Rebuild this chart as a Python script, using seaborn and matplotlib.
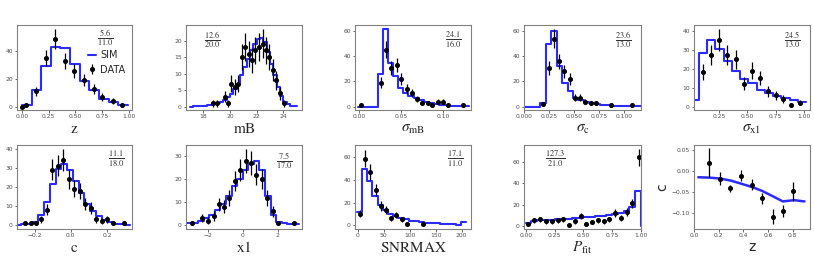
import numpy as np
import pandas as pd
import matplotlib
matplotlib.use("Agg")
from matplotlib import pyplot as plt
from matplotlib.ticker import MultipleLocator
import seaborn as sns

sns.set_style("ticks")
plt.rcParams["font.family"] = ["DejaVu Sans"]
plt.rcParams["mathtext.fontset"] = "stix"
plt.rcParams["axes.edgecolor"] = "0.5"
plt.rcParams["axes.linewidth"] = 0.8
plt.rcParams["xtick.color"] = "0.3"
plt.rcParams["ytick.color"] = "0.3"
plt.rcParams["xtick.labelsize"] = 4.3
plt.rcParams["ytick.labelsize"] = 4.3
plt.rcParams["xtick.major.size"] = 1.8
plt.rcParams["ytick.major.size"] = 1.8
plt.rcParams["xtick.major.pad"] = 1.2
plt.rcParams["ytick.major.pad"] = 1.2
plt.rcParams["xtick.major.width"] = 0.6
plt.rcParams["ytick.major.width"] = 0.6

SIM_COLOR = "#2b2bff"

# data ########################################################################
# z
z_edges = np.linspace(0.0, 0.99, 12)
z_sim = [1.5, 12.4, 29.5, 43.4, 42.2, 30.5, 18.5, 11.7, 5.6, 3.2, 1.2]
z_x = [0.0, 0.04, 0.135, 0.22, 0.31, 0.40, 0.49, 0.58, 0.67, 0.75, 0.85, 0.94]
z_n = [0, 1, 11, 35, 49, 33, 26, 19, 13, 7, 4, 1]

# mB
mb_edges = np.linspace(17.0, 25.0, 33)
mb_sim = [0.05, 0.1, 0.15, 0.2, 0.3, 0.4, 0.5, 0.7, 1.0, 1.4, 2.0, 2.8, 3.8, 5.2,
          7.0, 9.5, 12.0, 14.5, 17.0, 19.0, 20.5, 20.8, 19.5, 16.5, 13.0, 9.5,
          6.0, 3.2, 1.5, 0.7, 0.3, 0.1]
mb_x = [18.75, 19.05, 19.6, 19.85, 20.1, 20.35, 20.6, 20.9, 21.15, 21.4, 21.65,
        21.9, 22.15, 22.45, 22.7, 22.95, 23.2, 23.45, 23.75, 24.05]
mb_n = [1, 1, 3, 1, 7, 6, 7, 15, 18, 16, 14, 17, 18, 19, 17, 15, 11, 8, 4, 1]

# sigma mB
smb_edges = np.linspace(-0.0012, 0.1308, 23)
smb_sim = [0, 0, 0, 0, 26, 62, 35, 24, 15, 11, 8.5, 6.5, 5, 4, 3, 2.2, 1.6, 1.1,
           0.7, 0.5, 0.3, 0.2]
smb_x = [0.0016, 0.026, 0.032, 0.038, 0.0448, 0.0504, 0.0568, 0.0628, 0.0688,
         0.0752, 0.0816, 0.0872, 0.0936, 0.0996, 0.1056, 0.124]
smb_n = [1, 19, 45, 31, 33, 22, 14, 11, 6, 3, 3, 1, 4, 4, 1, 1]

# sigma c
sc_edges = np.linspace(-0.0008, 0.1202, 23)
sc_sim = [0, 0, 0, 3, 50, 60, 32, 19, 12, 7, 5, 3.5, 2.5, 1.8, 1.2, 0.9, 0.6, 0.4,
          0.3, 0.2, 0.1, 0.1]
sc_x = [0.019, 0.0247, 0.0297, 0.035, 0.040, 0.0457, 0.051, 0.0557, 0.061,
        0.0663, 0.0717, 0.0873, 0.108]
sc_n = [2, 31, 54, 36, 28, 22, 7, 7, 4, 3, 3, 1, 1]

# sigma x1
sx1_edges = np.linspace(0.0, 1.018, 15)
sx1_sim = [3.5, 28.5, 35, 30.5, 24, 18.5, 14.5, 12.5, 9, 7, 5.5, 4.5, 3.5, 2.5]
sx1_x = [0.112, 0.18, 0.253, 0.323, 0.397, 0.47, 0.538, 0.612, 0.679, 0.75,
         0.818, 0.888, 0.962]
sx1_n = [18, 27, 35, 27, 25, 12, 19, 15, 8, 6, 4, 1, 2]

# c
c_edges = np.linspace(-0.307, 0.329, 21)
c_sim = [0.2, 0.3, 0.6, 1.5, 5, 12, 21.5, 29.5, 32, 29, 23, 17, 11, 7.5, 4.5, 2.4,
         1.4, 0.6, 0.3, 0.2]
c_x = [-0.253, -0.222, -0.193, -0.163, -0.132, -0.103, -0.073, -0.042, -0.011,
       0.018, 0.05, 0.081, 0.11, 0.141, 0.172, 0.202, 0.233, 0.292]
c_n = [1, 1, 1, 3, 8, 29, 31, 34, 24, 19, 18, 11, 9, 3, 2, 3, 1, 1]

# x1
x1_edges = np.linspace(-3.2, 3.2, 21)
x1_sim = [0.8, 1.0, 1.8, 3.0, 4.3, 6.5, 9.0, 12.5, 17, 20, 24, 26.5, 28, 24, 12.5,
          4.5, 1.2, 0.8, 0.5, 0.3]
x1_x = [-2.92, -2.31, -2.0, -1.67, -1.38, -1.1, -0.77, -0.46, -0.13, 0.19, 0.48,
        0.79, 1.12, 1.4, 1.73, 2.04, 2.94]
x1_n = [1, 3, 2, 4, 9, 8, 12, 19, 24, 28, 27, 22, 20, 12, 6, 1, 1]

# SNRMAX
snr_edges = np.linspace(-1.5, 208.5, 22)
snr_sim = [12, 50, 39.5, 26, 18, 13.5, 10, 8, 6.5, 5, 4, 3.3, 2.7, 2.2, 1.8, 1.4,
           1.1, 0.8, 0.6, 0.4, 3]
snr_x = [4.6, 14.4, 24, 34.8, 44.6, 54.4, 64, 74, 85, 95, 126]
snr_n = [10, 59, 47, 31, 17, 13, 6, 9, 5, 1, 1]

# P_fit
pf_edges = np.linspace(0.0, 1.05, 22)
pf_sim = [2.5, 4.5, 5, 5.3, 5.6, 6, 6.3, 6.6, 7, 7.4, 7.8, 8.3, 8.8, 9.4, 10.1, 11,
          12, 13.5, 17.5, 33, 0]
pf_x = [0.02, 0.07, 0.124, 0.174, 0.224, 0.276, 0.324, 0.374, 0.424, 0.476, 0.526,
        0.576, 0.626, 0.676, 0.726, 0.776, 0.826, 0.876, 0.926, 0.979]
pf_n = [2, 5, 6, 4, 4, 5, 6, 1, 4, 9, 2, 3, 5, 4, 6, 12, 7, 13, 21, 65]

# c vs z
cz_model_z = [0.035, 0.13, 0.21, 0.30, 0.38, 0.47, 0.55, 0.64, 0.72, 0.81, 0.895]
cz_model_c = [-0.015, -0.016, -0.018, -0.023, -0.030, -0.038, -0.047, -0.060,
              -0.072, -0.069, -0.072]
cz_z = [0.124, 0.214, 0.295, 0.384, 0.47, 0.554, 0.638, 0.722, 0.805]
cz_c = [0.0195, -0.018, -0.041, -0.011, -0.033, -0.065, -0.108, -0.0945, -0.0484]
cz_err = [0.034, 0.015, 0.008, 0.012, 0.013, 0.014, 0.018, 0.014, 0.023]

labels = [r"$\mathrm{z}$", r"$\mathrm{mB}$", r"$\sigma_{\mathrm{mB}}$",
          r"$\sigma_{\mathrm{c}}$", r"$\sigma_{\mathrm{x1}}$", r"$\mathrm{c}$",
          r"$\mathrm{x1}$", r"$\mathrm{SNRMAX}$", r"$P_{\mathrm{fit}}$"]
chi2 = ["5.6", "12.6", "24.1", "23.6", "24.5", "11.1", "7.5", "17.1", "127.3"]
ndof = ["11.0", "20.0", "16.0", "13.0", "13.0", "18.0", "17.0", "11.0", "21.0"]


# helpers #####################################################################
def sim_hist(ax, edges, heights, label=None):
    df = pd.DataFrame({"x": edges, "y": list(heights) + [heights[-1]]})
    sns.lineplot(data=df, x="x", y="y", drawstyle="steps-post", estimator=None,
                 sort=False, color=SIM_COLOR, lw=1.5, ax=ax, label=label)


def data_pts(ax, x, n, label=None):
    n = np.asarray(n, dtype=float)
    ax.errorbar(x, n, yerr=np.sqrt(n), fmt="o", color="k", ms=2.6,
                elinewidth=0.9, capsize=0, label=label)


fig = plt.figure(figsize=(8.14, 2.76), dpi=100)
W, H = 814.0, 276.0
lefts = [17, 186, 355, 524, 694]
rights = [132, 302, 471, 641, 810]
rows = [(25, 110), (145, 229)]


def mk_ax(r, c):
    top, bot = rows[r]
    return fig.add_axes([lefts[c] / W, (H - bot) / H,
                         (rights[c] - lefts[c]) / W, (bot - top) / H])


panels = [
    (z_edges, z_sim, z_x, z_n, (0.77, 0.85), (-0.047, 1.03), (-2.4, 59), 0.25, 20),
    (mb_edges, mb_sim, mb_x, mb_n, (0.23, 0.83), (16.7, 25.4), (-1.0, 24.7), 2, 5),
    (smb_edges, smb_sim, smb_x, smb_n, (0.85, 0.83), (-0.0052, 0.1336), (-2.7, 64.8), 0.05, 20),
    (sc_edges, sc_sim, sc_x, sc_n, (0.85, 0.83), (-0.0005, 0.117), (-2.7, 64.8), 0.025, 20),
    (sx1_edges, sx1_sim, sx1_x, sx1_n, (0.85, 0.83), (0.029, 1.053), (-1.8, 43), 0.25, 10),
    (c_edges, c_sim, c_x, c_n, (0.86, 0.83), (-0.297, 0.338), (-2.1, 41.9), 0.2, 10),
    (x1_edges, x1_sim, x1_x, x1_n, (0.85, 0.81), (-3.25, 3.4), (-1.7, 34.9), 2, 10),
    (snr_edges, snr_sim, snr_x, snr_n, (0.86, 0.84), (-5, 218), (-3.5, 71), 50, 20),
    (pf_edges, pf_sim, pf_x, pf_n, (0.27, 0.83), (-0.015, 1.0), (-3.2, 76.5), 0.25, 20),
]

for i, (edges, sim, dx, dn, tpos, xl, yl, xs, ys) in enumerate(panels):
    ax = mk_ax(i // 5, i % 5)
    first = i == 0
    sim_hist(ax, edges, sim, label="SIM" if first else None)
    data_pts(ax, dx, dn, label="DATA" if first else None)
    ax.set_xlim(*xl)
    ax.set_ylim(*yl)
    ax.xaxis.set_major_locator(MultipleLocator(xs))
    ax.yaxis.set_major_locator(MultipleLocator(ys))
    ax.set_xlabel(labels[i], fontsize=11, labelpad=1)
    ax.set_ylabel("")
    ax.text(tpos[0], tpos[1], r"$\frac{%s}{%s}$" % (chi2[i], ndof[i]),
            transform=ax.transAxes, ha="center", va="center", fontsize=8.5,
            color="0.2")
    if first:
        ax.legend(loc="center left", bbox_to_anchor=(0.62, 0.56), frameon=False,
                  fontsize=7, handlelength=0.8, handletextpad=0.4,
                  labelspacing=0.45, borderpad=0, borderaxespad=0)
    else:
        leg = ax.get_legend()
        if leg is not None:
            leg.remove()

# c vs z ######################################################################
ax = mk_ax(1, 4)
sns.lineplot(x=cz_model_z, y=cz_model_c, color=SIM_COLOR, lw=1.8,
             estimator=None, sort=False, ax=ax)
ax.errorbar(cz_z, cz_c, yerr=cz_err, fmt="o", color="k", ms=2.6,
            elinewidth=0.9, capsize=0)
ax.set_xlim(0.0, 0.94)
ax.set_ylim(-0.137, 0.061)
ax.xaxis.set_major_locator(MultipleLocator(0.2))
ax.yaxis.set_major_locator(MultipleLocator(0.05))
ax.set_xlabel("z", fontsize=10, labelpad=1, family="DejaVu Sans")
ax.set_ylabel("c", fontsize=10, labelpad=2, family="DejaVu Sans")

fig.savefig("out.png", dpi=100)
